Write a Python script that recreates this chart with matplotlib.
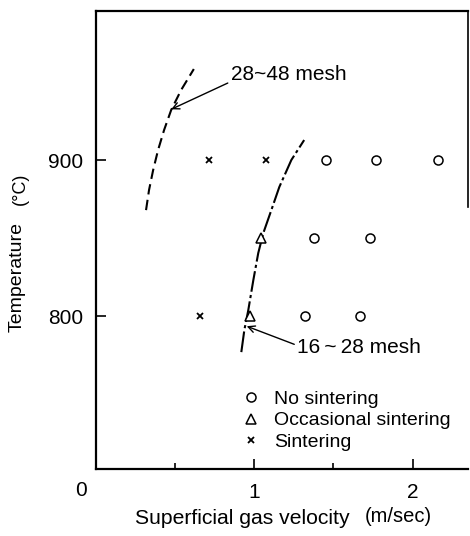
import matplotlib
matplotlib.use("Agg")
import matplotlib.pyplot as plt

plt.rcParams['font.family'] = ['Liberation Sans', 'DejaVu Sans']

# ---- data ----
no_sint_v = [1.456, 1.772, 2.161, 1.38, 1.734, 1.323, 1.665]
no_sint_T = [900, 900, 900, 850, 850, 800, 800]
occ_v = [1.044, 0.975]
occ_T = [850, 800]
sint_v = [0.715, 1.076, 0.658]
sint_T = [900, 900, 800]

curve_fine_v = [0.316, 0.335, 0.361, 0.392, 0.430, 0.475, 0.538, 0.618]
curve_fine_T = [867.9, 880.8, 893.6, 906.4, 919.2, 932.1, 944.9, 958.3]
curve_coarse_v = [0.918, 0.937, 0.962, 0.994, 1.025, 1.057, 1.108, 1.158, 1.234, 1.315]
curve_coarse_T = [776.9, 791.0, 803.8, 823.1, 840.4, 853.2, 868.0, 882.7, 900.0, 912.8]

xticks_major = [1, 2]
xtick_labels = ['1', '2']
xticks_minor = [0.5, 1.5]
yticks = [800, 900]
ytick_labels = ['800', '900']

fig = plt.figure(figsize=(4.70, 5.36), dpi=100)
ax = fig.add_axes([0.2043, 0.125, 0.7914, 0.8545])

ax.set_xlim(0, 2.35)
ax.set_ylim(702, 995.5)

# curves
ax.plot(curve_fine_v, curve_fine_T, color='black', lw=1.5, ls=(0, (5, 2.6)))
ax.plot(curve_coarse_v, curve_coarse_T, color='black', lw=1.5, ls=(0, (10, 1.6, 1.5, 1.6)))

# points
ax.plot(no_sint_v, no_sint_T, ls='none', marker='o', ms=6.5, mfc='white', mec='black', mew=1.1,
        label='No sintering')
ax.plot(occ_v, occ_T, ls='none', marker='^', ms=7.5, mfc='white', mec='black', mew=1.1,
        label='Occasional sintering')
ax.plot(sint_v, sint_T, ls='none', marker='x', ms=5, color='black', mew=1.3,
        label='Sintering')

# annotations
ax.annotate('28~48 mesh', xy=(0.475, 932.5), xytext=(0.85, 954.5),
            fontsize=15, va='center', ha='left',
            arrowprops=dict(arrowstyle='->', lw=1.0, color='black', mutation_scale=12,
                            shrinkA=0, shrinkB=0, relpos=(0.02, 0.2)))
ax.annotate('16\u2009~\u200928 mesh', xy=(0.952, 793.5), xytext=(1.27, 780),
            fontsize=15, va='center', ha='left',
            arrowprops=dict(arrowstyle='->', lw=1.0, color='black', mutation_scale=12,
                            shrinkA=0, shrinkB=0, relpos=(0.0, 0.6)))

# legend
leg = ax.legend(loc='upper left', bbox_to_anchor=(0.394, 0.172), frameon=False,
                fontsize=14, handlelength=0.9, handletextpad=0.7,
                labelspacing=0.2, borderpad=0, borderaxespad=0)

# ticks
ax.set_xticks(xticks_major)
ax.set_xticklabels(xtick_labels)
ax.set_xticks(xticks_minor, minor=True)
ax.set_yticks(yticks)
ax.set_yticklabels(ytick_labels)
ax.tick_params(axis='both', which='major', direction='in', length=7, width=1.2,
               labelsize=15)
ax.tick_params(axis='x', which='major', pad=10)
ax.tick_params(axis='y', which='major', pad=9)
ax.tick_params(axis='x', which='minor', direction='in', length=4.5, width=1.2)
ax.tick_params(axis='y', which='minor', left=False)

ax.text(-0.098, -0.046, '0', transform=ax.get_xaxis_transform(), fontsize=15,
        ha='center', va='center')

for s in ['left', 'bottom', 'top']:
    ax.spines[s].set_linewidth(1.6)
ax.spines['right'].set_linewidth(1.2)
ax.spines['right'].set_bounds(870, 995.5)

# axis labels
fig.text(0.287, 0.032, 'Superficial gas velocity', fontsize=15.2, ha='left', va='center')
fig.text(0.777, 0.036, '(m/sec)', fontsize=14.5, ha='left', va='center')
fig.text(0.036, 0.483, 'Temperature', fontsize=14, rotation=90, ha='center', va='center')
fig.text(0.044, 0.647, '(°C)', fontsize=13, rotation=90, ha='center', va='center')

fig.savefig('out.png', dpi=100)
